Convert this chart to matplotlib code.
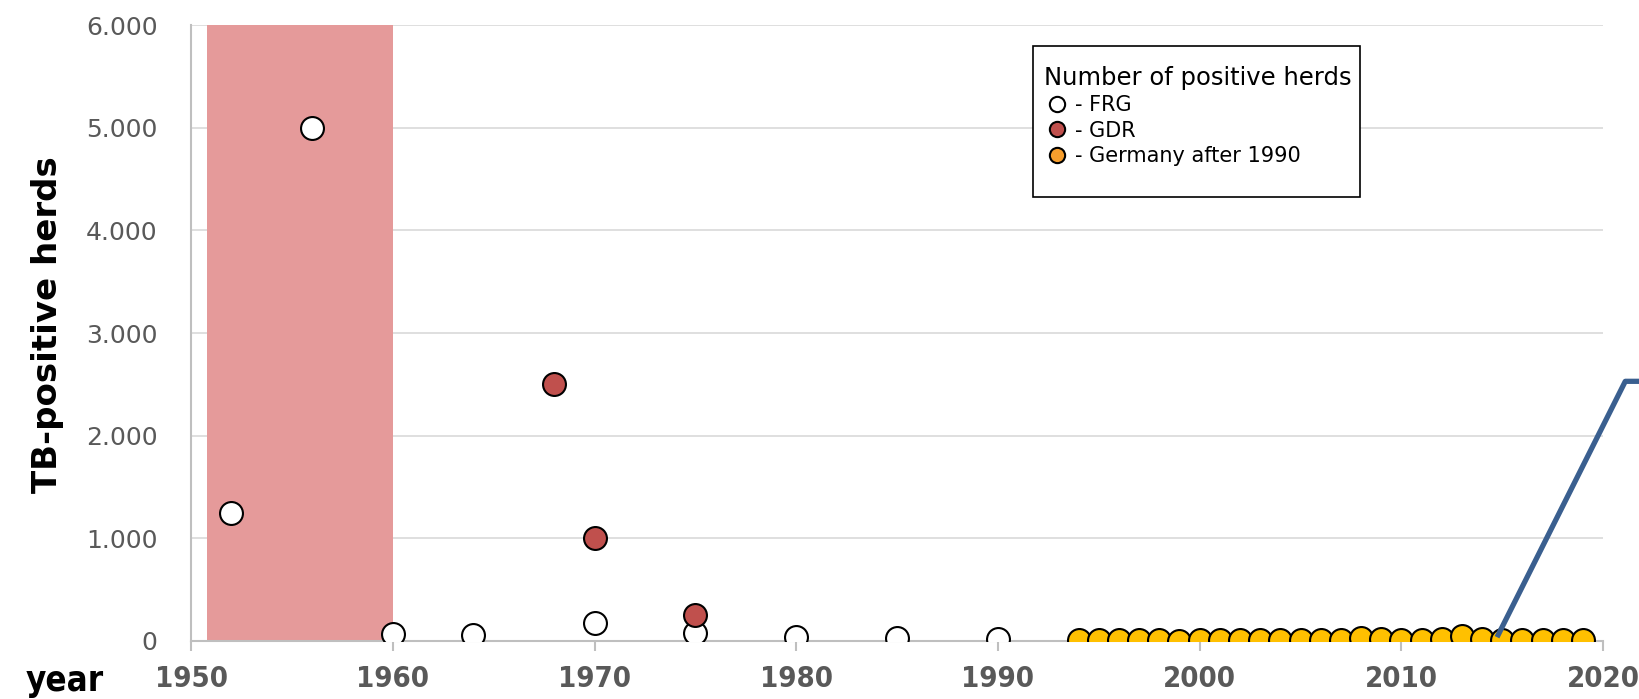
import matplotlib.pyplot as plt
from matplotlib.lines import Line2D
from matplotlib.patches import Rectangle
from matplotlib.ticker import FuncFormatter

# data
frg_years = [1952, 1956, 1960, 1964, 1970, 1975, 1980, 1985, 1990]
frg_herds = [1250, 5000, 70, 60, 180, 80, 40, 30, 20]

gdr_years = [1968, 1970, 1975]
gdr_herds = [2500, 1000, 250]

ger_years = list(range(1994, 2020))
ger_herds = [10, 8, 8, 7, 8, 3, 5, 7, 5, 7, 5, 5, 7, 12,
             25, 20, 12, 5, 20, 45, 15, 10, 5, 5, 5, 5]

band_years = [1950.8, 1960]
pointer_x = [2014.8, 2021.1, 2022.2]
pointer_y = [60, 2530, 2530]

W, H = 1640, 699
fig = plt.figure(figsize=(W / 100, H / 100), dpi=100)
ax = fig.add_axes([0.1165, 0.083, 0.861, 0.881])

ax.axvspan(band_years[0], band_years[1], color="#E59A9A", zorder=1, lw=0)

mk = dict(marker="o", ls="none", ms=16.5, mec="black", mew=1.5, zorder=4)
ax.plot(frg_years, frg_herds, mfc="white", **mk)
ax.plot(gdr_years, gdr_herds, mfc="#C0504D", **mk)
ax.plot(ger_years, ger_herds, mfc="#FFC000", **mk)

ax.plot(pointer_x, pointer_y, color="#3A5F8F", lw=3.8, clip_on=False, zorder=5)

ax.set_xlim(1950, 2020)
ax.set_ylim(0, 6000)
ax.set_xticks(range(1950, 2021, 10))
ax.set_yticks(range(0, 6001, 1000))
ax.yaxis.set_major_formatter(FuncFormatter(lambda v, p: f"{int(v):,}".replace(",", ".")))
ax.grid(axis="y", color="#D9D9D9", lw=1.2, zorder=0)
ax.set_axisbelow(True)

for s in ["top", "right"]:
    ax.spines[s].set_visible(False)
for s in ["left", "bottom"]:
    ax.spines[s].set_color("#BFBFBF")
    ax.spines[s].set_linewidth(1.5)

ax.tick_params(axis="y", length=0, pad=24, labelsize=18, labelcolor="#595959")
ax.tick_params(axis="x", length=7, width=1.5, color="#BFBFBF", pad=10,
               labelsize=21, labelcolor="#595959")
for lbl in ax.get_xticklabels():
    lbl.set_fontweight("bold")
    lbl.set_fontstretch("condensed")

fig.text(0.029, 0.536, "TB-positive herds", rotation=90, ha="center", va="center",
         fontsize=24.5, fontweight="bold")
fig.text(0.0395, 0.026, "year", ha="center", va="center", fontsize=25,
         fontweight="bold", fontstretch="condensed")

# legend box drawn by hand (taller than the entries need, as in the reference)
ax.add_patch(Rectangle((1033 / W, 1 - 197 / H), 327 / W, 151 / H,
                       transform=fig.transFigure, facecolor="white",
                       edgecolor="black", lw=1.2, zorder=9, clip_on=False))

handles = [
    Line2D([], [], marker="o", ls="none", ms=11, mfc="white", mec="black", mew=1.5),
    Line2D([], [], marker="o", ls="none", ms=11, mfc="#C0504D", mec="black", mew=1.5),
    Line2D([], [], marker="o", ls="none", ms=11, mfc="#F79E2D", mec="black", mew=1.5),
]
leg = ax.legend(handles, ["- FRG", "- GDR", "- Germany after 1990"],
                title="Number of positive herds", loc="upper left",
                bbox_to_anchor=(1040 / W, 1 - 62 / H), bbox_transform=fig.transFigure,
                fontsize=15, title_fontsize=17.5, alignment="left", frameon=False,
                handletextpad=0.3, handlelength=1.2,
                labelspacing=0.25, borderpad=0.2, borderaxespad=0)
leg.set_zorder(10)

fig.savefig("out.png", dpi=100, facecolor="white")
